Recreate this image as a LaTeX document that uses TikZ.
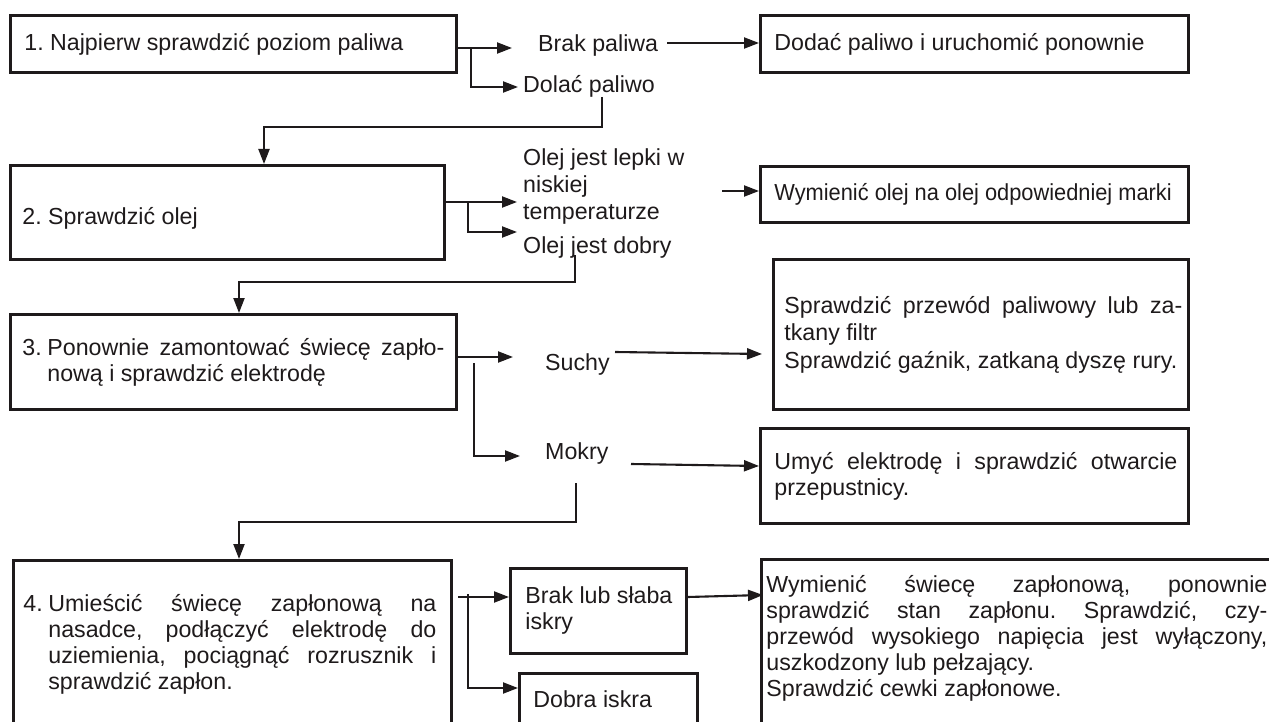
\documentclass[tikz,border=0pt]{standalone}
\usepackage{fontspec}
\usepackage{graphicx}
\setmainfont{Liberation Sans}
\usetikzlibrary{arrows.meta}
\definecolor{ink}{HTML}{1E1A1B}
\newcommand\bx[5]{\hspace*{#1pt}\parbox[c][#4pt][c]{#2pt}{#5}\hspace*{#3pt}}
\newcommand\jline[2]{\makebox[#1pt][s]{#2}}
\frenchspacing
\begin{document}
\frenchspacing
\begin{tikzpicture}[x=1pt,y=-1pt,
 every node/.style={font=\fontsize{23.2}{26}\selectfont\frenchspacing, text=ink},
 box/.style={draw=ink, line width=2.8pt, inner sep=0pt, anchor=north west},
 lbl/.style={inner sep=0pt, anchor=west, text height=16.6pt, text depth=0pt},
 conn/.style={draw=ink, line width=2.1pt},
 arr/.style={conn, -{Triangle[length=15pt,width=11pt]}},
]
\useasboundingbox (0,0) rectangle (1269,722);
\clip (0,0) rectangle (1269,722);

% ---------- boxes ----------
\node[box] (b1) at (9,14) {\bx{14}{420}{12}{57}{1. Najpierw sprawdzić poziom paliwa}};
\node[box] (dodac) at (759,14) {\bx{14}{400}{14}{57}{Dodać paliwo i uruchomić ponownie}};
\node[box] (b2) at (9,164) {\bx{12}{410}{12}{94}{\vspace*{12pt}2. Sprawdzić olej}};
\node[box] (oilR) at (759,165) {\bx{14}{400}{14}{56}{\scalebox{0.94}[1]{Wymienić olej na olej odpowiedniej marki}}};
\node[box] (b3) at (9,313) {\bx{12}{422}{12}{95}{\makebox[25pt][l]{3.}\jline{397}{Ponownie zamontować świecę zapło-}\\\hspace*{25pt}nową i sprawdzić elektrodę}};
\node[box] (dryR) at (772,258) {\bx{11}{398}{6}{150}{\setlength\baselineskip{27.5pt}\jline{398}{Sprawdzić przewód paliwowy lub za-}\\tkany filtr\\Sprawdzić gaźnik, zatkaną dyszę rury.}};
\node[box] (wetR) at (759,427) {\bx{14}{403}{11}{95}{\jline{403}{Umyć elektrodę i sprawdzić otwarcie}\\przepustnicy.}};
\node[box] (b4) at (12,559) {\bx{10}{413}{15}{168}{\makebox[25pt][l]{4.}\jline{388}{Umieścić świecę zapłonową na}\\\hspace*{25pt}\jline{388}{nasadce, podłączyć elektrodę do}\\\hspace*{25pt}\jline{388}{uziemienia, pociągnąć rozrusznik i}\\\hspace*{25pt}sprawdzić zapłon.}};
\node[box] (brakR) at (509,567) {\bx{15}{150}{11}{85}{Brak lub słaba\\iskry}};
\node[box] (dobraR) at (518,672) {\bx{14}{150}{14}{52}{Dobra iskra}};
\node[box] (b4R) at (760,558) {\bx{5}{501}{30}{180}{\jline{501}{Wymienić świecę zapłonową, ponownie}\\\jline{501}{sprawdzić stan zapłonu. Sprawdzić, czy-}\\\jline{501}{przewód wysokiego napięcia jest wyłączony,}\\uszkodzony lub pełzający.\\Sprawdzić cewki zapłonowe.\par\vspace{23pt}}};

% ---------- labels ----------
\node[lbl] (brak) at (538,43) {Brak paliwa};
\node[lbl] (dolac) at (523,84) {Dolać paliwo};
\node[inner sep=0pt, anchor=north west, align=left, font=\fontsize{23.2}{27}\selectfont] (lepki) at (523,148) {Olej jest lepki w\\niskiej\\temperaturze};
\node[lbl] (dobry) at (523,245) {Olej jest dobry};
\node[lbl] (suchy) at (545,362) {Suchy};
\node[lbl] (mokry) at (545,451) {Mokry};

% ---------- coordinates ----------
\coordinate (t1) at (512,48);
\coordinate (j1) at (471,48);
\coordinate (t2) at (518,87);
\coordinate (s4) at (602,97);
\coordinate (k4) at (264,127);
\coordinate (t5) at (517,202);
\coordinate (j5) at (468,202);
\coordinate (t6) at (517,232);
\coordinate (s7) at (722,191);
\coordinate (s8) at (575,255);
\coordinate (k8) at (239,282);
\coordinate (t9) at (513,357);
\coordinate (j9) at (474,363);
\coordinate (t10) at (520,456);
\coordinate (s11) at (615,352);
\coordinate (t11) at (762,354);
\coordinate (s12) at (631,464);
\coordinate (t12) at (760,466);
\coordinate (s13) at (576,483);
\coordinate (k13) at (239,522);
\coordinate (s14) at (458,597);
\coordinate (j14) at (468,594);
\coordinate (t15) at (518,688);
\coordinate (t16) at (763,595);

% ---------- connectors ----------
\draw[arr] (b1.east |- t1) -- (t1);
\draw[arr] (j1) |- (t2);
\draw[arr] ([xshift=9pt]brak.east) -- (dodac.west |- brak.east);
\draw[arr] (s4) |- (k4) -- (k4 |- b2.north);
\draw[arr] (b2.east |- t5) -- (t5);
\draw[arr] (j5) |- (t6);
\draw[arr] (s7) -- (oilR.west |- s7);
\draw[arr] (s8) |- (k8) -- (k8 |- b3.north);
\draw[arr] (b3.east |- t9) -- (t9);
\draw[arr] (j9) |- (t10);
\draw[arr] (s11) -- (t11);
\draw[arr] (s12) -- (wetR.west |- t12);
\draw[arr] (s13) |- (k13) -- (k13 |- b4.north);
\draw[arr] (s14) -- (brakR.west |- s14);
\draw[arr] (j14) |- (t15);
\draw[arr] (brakR.east |- s14) -- (t16);
\end{tikzpicture}
\end{document}
